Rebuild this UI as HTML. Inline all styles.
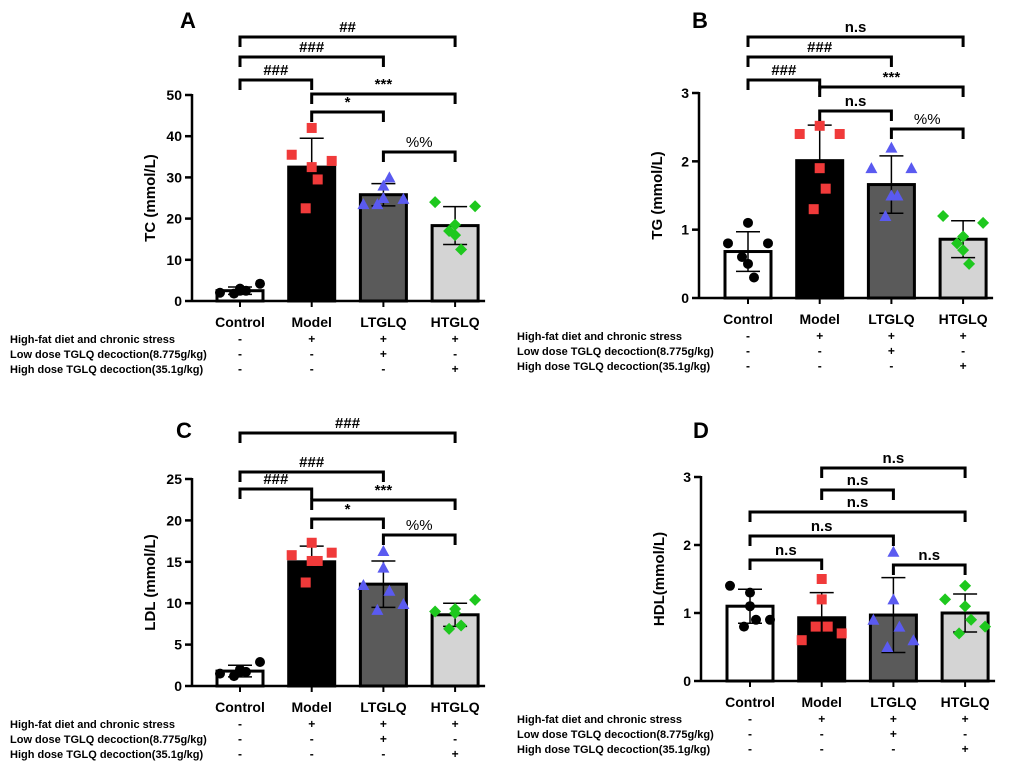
<!DOCTYPE html>
<html><head><meta charset="utf-8"><style>
html,body{margin:0;padding:0;background:#fff}
svg{display:block;font-family:"Liberation Sans",Arial,sans-serif}
</style></head><body>
<svg id="fig" width="1020" height="764" viewBox="0 0 1020 764"></svg>
<script>
const categories = ["Control","Model","LTGLQ","HTGLQ"];
const tcMeans = [2.5,32.5,25.8,18.3];
const tcSD = [0.9,7.0,2.7,4.6];
const tcPoints = [[2,3,2.5,2.5,1.8,4.2],[35.5,42,32.5,29.5,22.5,34],[23.5,28,25,30,23.5,24.8],[24,18.5,16,12.5,17,23]];
const tgMeans = [0.68,2.01,1.66,0.86];
const tgSD = [0.29,0.52,0.42,0.27];
const tgPoints = [[0.8,1.1,0.5,0.3,0.6,0.8],[2.4,2.52,1.9,1.6,1.3,2.4],[1.9,2.2,1.5,1.5,1.2,1.9],[1.2,0.9,0.7,0.5,0.8,1.1]];
const ldlMeans = [1.8,15,12.3,8.6];
const ldlSD = [0.7,1.9,2.8,1.4];
const ldlPoints = [[1.5,2.0,1.7,1.7,1.2,2.9],[15.8,17.3,15.1,15.1,12.5,16.1],[12.2,14.3,16.3,11.5,9.2,9.9],[9.0,9.3,8.8,7.3,6.9,10.4]];
const hdlMeans = [1.1,0.93,0.97,1.0];
const hdlSD = [0.25,0.37,0.55,0.28];
const hdlPoints = [[1.4,1.3,1.1,0.9,0.8,0.9],[0.6,1.2,1.5,0.8,0.8,0.7],[0.9,1.9,1.2,0.8,0.5,0.6],[1.2,1.4,1.1,0.9,0.7,0.8]];
const tcTicks=[0,10,20,30,40,50], tgTicks=[0,1,2,3], ldlTicks=[0,5,10,15,20,25], hdlTicks=[0,1,2,3];
const condRows=["High-fat diet and chronic stress","Low dose TGLQ decoction(8.775g/kg)","High dose TGLQ decoction(35.1g/kg)"];
const condSigns=[["-","+","+","+"],["-","-","+","-"],["-","-","-","+"]];
const tcBr=[[0,3,"##"],[0,2,"###"],[0,1,"###"],[1,3,"***"],[1,2,"*"],[2,3,"%%"]];
const tgBr=[[0,3,"n.s"],[0,2,"###"],[0,1,"###"],[1,3,"***"],[1,2,"n.s"],[2,3,"%%"]];
const ldlBr=[[0,3,"###"],[0,2,"###"],[0,1,"###"],[1,3,"***"],[1,2,"*"],[2,3,"%%"]];
const hdlBr=[[1,3,"n.s"],[1,2,"n.s"],[0,3,"n.s"],[0,2,"n.s"],[0,1,"n.s"],[2,3,"n.s"]];

const NS="http://www.w3.org/2000/svg";
const svg=document.getElementById('fig');
function mk(tag,attrs,parent){const e=document.createElementNS(NS,tag);for(const k in attrs)e.setAttribute(k,attrs[k]);(parent||svg).appendChild(e);return e;}
const fills=["#fff","#000","#5a5a5a","#d4d4d4"];
const ptCol=["#000","#f03a3a","#5a5af0","#1ec81e"];
const offsX=[-20,0,0,6,-6,20];

function panel(o){
  const g=mk('g',{});
  
  
  const y=v=>o.y0-(v/o.max)*(o.y0-o.yTop);
  const cx=i=>o.x0+i*o.step;
  const L=mk('text',{x:o.lx,y:o.ly,'font-size':22,'font-weight':'bold'},g);L.textContent=o.letter;
  
  const ax=mk('line',{x1:o.ax,y1:o.yTop-1,x2:o.ax,y2:o.y0,stroke:'#000','stroke-width':2.5},g);
  
  const xa=mk('line',{x1:o.ax,y1:o.y0,x2:cx(3)+30,y2:o.y0,stroke:'#000','stroke-width':2.5},g);
  
  o.ticks.forEach(t=>{
    mk('line',{x1:o.ax-7,y1:y(t),x2:o.ax,y2:y(t),stroke:'#000','stroke-width':2.5},g);
    const tl=mk('text',{x:o.ax-10,y:y(t)+5,'font-size':14,'font-weight':'bold','text-anchor':'end'},g);tl.textContent=t;
    
  });
  const yt=mk('text',{x:0,y:0,'font-size':15,'font-weight':'bold','text-anchor':'middle',transform:`translate(${o.ax-37},${(o.y0+o.yTop)/2}) rotate(-90)`},g);
  yt.textContent=o.title;
  categories.forEach((c,i)=>{
    const x=cx(i);
    mk('line',{x1:x,y1:o.y0,x2:x,y2:o.y0+6,stroke:'#000','stroke-width':2},g);
    const b=mk('rect',{x:x-23,y:y(o.means[i]),width:46,height:o.y0-y(o.means[i]),fill:fills[i],stroke:'#000','stroke-width':3},g);
    
    const hi=y(o.means[i]+o.sd[i]),lo=y(Math.max(0,o.means[i]-o.sd[i]));
    mk('line',{x1:x,y1:hi,x2:x,y2:lo,stroke:'#000','stroke-width':1.5},g);
    mk('line',{x1:x-12,y1:hi,x2:x+12,y2:hi,stroke:'#000','stroke-width':1.5},g);
    mk('line',{x1:x-12,y1:lo,x2:x+12,y2:lo,stroke:'#000','stroke-width':1.5},g);
    o.pts[i].forEach((v,j)=>{
      const px=x+offsX[j],py=y(v);let p;
      if(i==0)p=mk('circle',{cx:px,cy:py,r:5,fill:ptCol[0]},g);
      else if(i==1)p=mk('rect',{x:px-5,y:py-5,width:10,height:10,fill:ptCol[1]},g);
      else if(i==2)p=mk('polygon',{points:`${px},${py-6} ${px-6},${py+5} ${px+6},${py+5}`,fill:ptCol[2]},g);
      else p=mk('polygon',{points:`${px},${py-6} ${px+6},${py} ${px},${py+6} ${px-6},${py}`,fill:ptCol[3]},g);
      
    });
    const cl=mk('text',{x:x,y:o.y0+26,'font-size':14,'font-weight':'bold','text-anchor':'middle'},g);cl.textContent=c;
    
    condSigns.forEach((row,r)=>{
      const s=mk('text',{x:x,y:o.y0+42+r*15,'font-size':12,'font-weight':'bold','text-anchor':'middle'},g);s.textContent=row[i];
      
    });
  });
  condRows.forEach((t,r)=>{
    const s=mk('text',{x:o.cx,y:o.y0+42+r*15,'font-size':11,'font-weight':'bold'},g);s.textContent=t;
    
  });
  o.br.forEach((b,k)=>{
    const by=o.bry[k],x1=cx(b[0]),x2=cx(b[1]);
    const p=mk('path',{d:`M${x1},${by+10}V${by}H${x2}V${by+10}`,fill:'none',stroke:'#000','stroke-width':3},g);
    
    const t=mk('text',{x:(x1+x2)/2,y:by-5,'font-size':15,'font-weight':b[2]=='%%'?'normal':'bold','text-anchor':'middle'},g);
    t.textContent=b[2];
  });
}
panel({id:'tc',letter:'A',lx:180,ly:28,ax:192,y0:301,yTop:95,max:50,x0:240,step:71.7,ticks:tcTicks,title:'TC (mmol/L)',means:tcMeans,sd:tcSD,pts:tcPoints,cx:10,br:tcBr,bry:[37,57,80,94,112,152]});
panel({id:'tg',letter:'B',lx:692,ly:28,ax:699,y0:298,yTop:93,max:3,x0:748,step:71.7,ticks:tgTicks,title:'TG (mmol/L)',means:tgMeans,sd:tgSD,pts:tgPoints,cx:517,br:tgBr,bry:[37,57,80,87,111,129]});
panel({id:'ldl',letter:'C',lx:176,ly:438,ax:192,y0:686,yTop:479,max:25,x0:240,step:71.7,ticks:ldlTicks,title:'LDL (mmol/L)',means:ldlMeans,sd:ldlSD,pts:ldlPoints,cx:10,br:ldlBr,bry:[433,472,489,500,519,535]});
panel({id:'hdl',letter:'D',lx:693,ly:438,ax:701,y0:681,yTop:477,max:3,x0:750,step:71.7,ticks:hdlTicks,title:'HDL(mmol/L)',means:hdlMeans,sd:hdlSD,pts:hdlPoints,cx:517,br:hdlBr,bry:[468,490,512,536,560,565]});
</script>
</body></html>
